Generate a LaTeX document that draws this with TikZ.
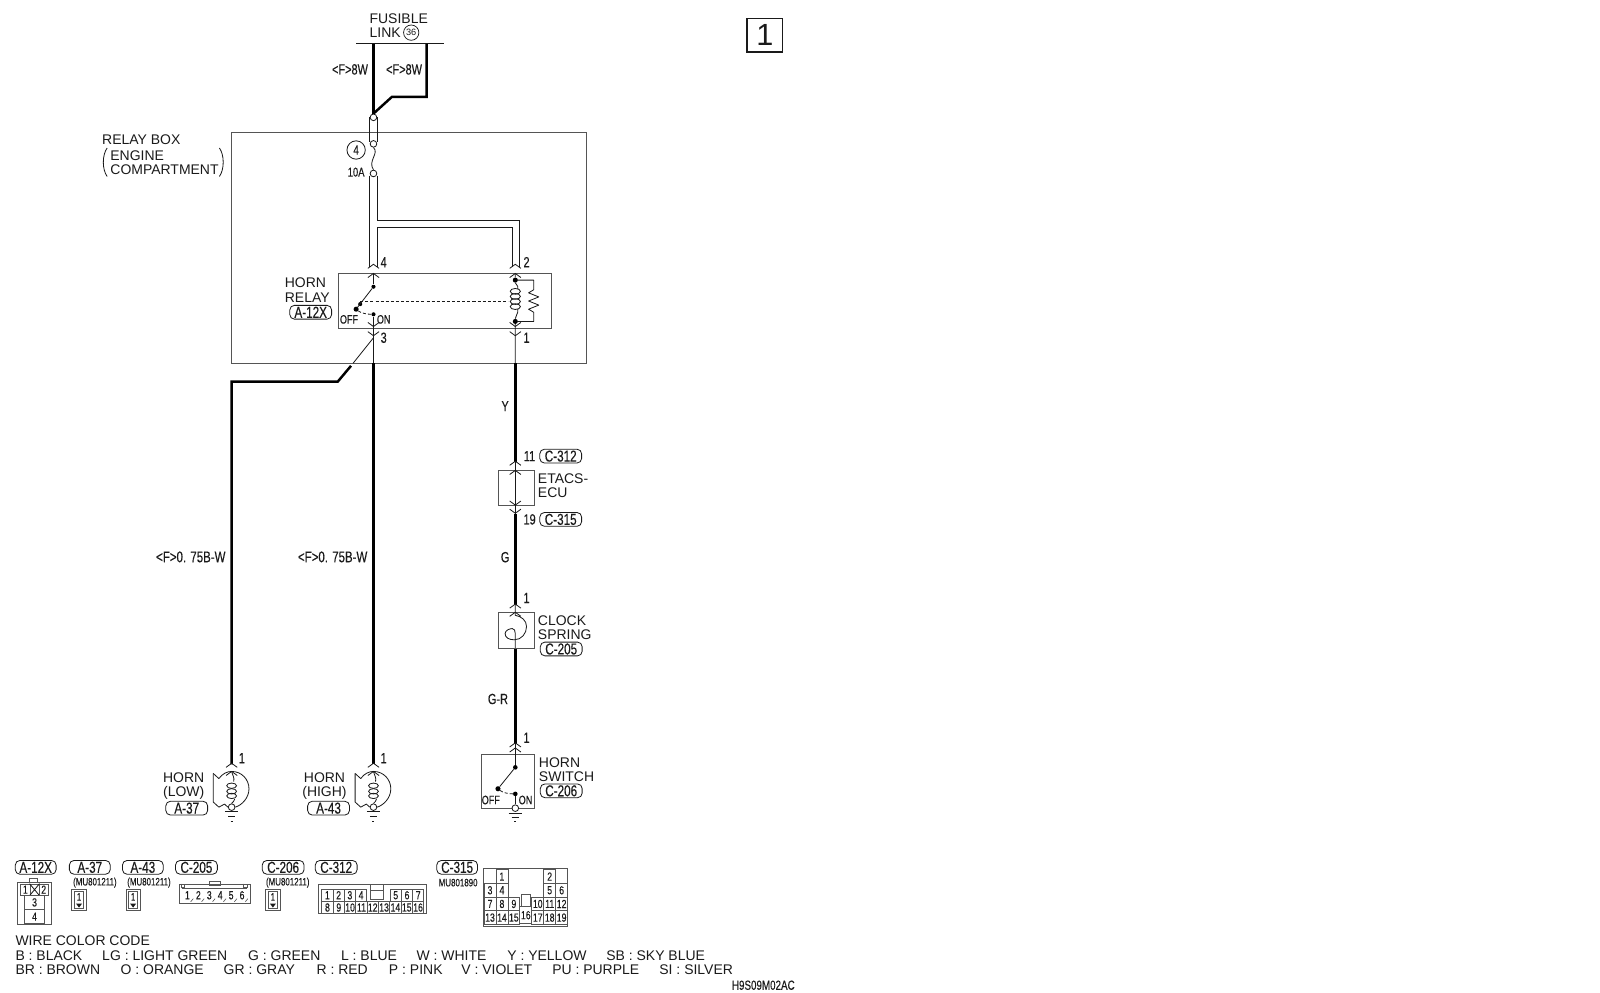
\documentclass[tikz,border=0pt]{standalone}
\usepackage{fontspec}
\setmainfont{Liberation Sans}
\newfontfamily\condf[FakeStretch=0.74,FakeBold=0.25]{Liberation Sans}
\usetikzlibrary{calc}
\definecolor{ink}{HTML}{1A1A1A}
\definecolor{boxc}{HTML}{555555}
\tikzset{
 x=1pt,y=-1pt,
 lbl/.style={inner sep=0pt,text=ink,text height=10pt,text depth=0pt,font=\fontsize{13.7}{14}\selectfont},
 lleft/.style={lbl,anchor=west},
 cnd/.style={inner sep=0pt,text=ink,text height=10pt,text depth=0pt,font=\condf\fontsize{14.5}{14.5}\selectfont},
 tiny/.style={inner sep=0pt,text=ink,font=\condf\fontsize{10.5}{10.5}\selectfont},
 tagbox/.style={draw=ink,line width=.8pt,rounded corners=4.5pt,inner sep=0pt,minimum height=13.5pt,text=ink,font=\condf\fontsize{15.5}{15.5}\selectfont},
 thick wire/.style={line width=2.4pt,draw=black},
 thin wire/.style={line width=.8pt,draw=ink},
 frame/.style={line width=.8pt,draw=boxc},
 oc/.style={circle,draw=ink,fill=white,line width=.8pt,minimum size=6.5pt,inner sep=0pt},
 dotn/.style={circle,fill=black,minimum size=5pt,inner sep=0pt},
 cell/.style={draw=boxc,line width=.7pt,inner sep=0pt,text=ink,font=\condf\fontsize{11.5}{11.5}\selectfont,anchor=north west},
 swtxt/.style={inner sep=0pt,text=ink,font=\condf\fontsize{12}{12}\selectfont},
}
\newcommand{\chevu}[2]{\draw[thin wire] (#1-5.5,#2+4)--(#1,#2)--(#1+5.5,#2+4);}
\newcommand{\chevd}[2]{\draw[thin wire] (#1-5.5,#2-4)--(#1,#2)--(#1+5.5,#2-4);}
\newcommand{\tagn}[5]{\node[tagbox,minimum width=#4pt] (#1) at (#2,#3) {#5};}
\newcommand{\cellat}[7]{\node[cell,minimum width=#4pt,minimum height=#5pt] (#1) at (#2,#3) {#7};}
\newcommand{\hornsym}[2]{%
 \coordinate (#2top) at (#1,756);
 \node[oc] (#2g) at (#1,791) {};
 \draw[thin wire,line join=round] (#1-18,758)--(#1-12.5,763) .. controls (#1-9,758) and (#1-4,756) .. (#1,756)
   .. controls (#1+10,756) and (#1+17,764) .. (#1+17,773)
   .. controls (#1+17,782) and (#1+10,789) .. (#2g.east);
 \draw[thin wire,line join=round] (#1-18,758)--(#1-18,786)--(#1-12.5,791)--(#1-7,788)--(#2g.west);
 \draw[thin wire] (#2top) .. controls (#1+1,760) and (#1+3,762) .. (#1+2,766);
 \foreach \yy in {770,775.5,780}{\draw[thin wire] (#1,\yy) ellipse[x radius=4.8,y radius=2.6];}
 \draw[thin wire] (#1+3,783) .. controls (#1+3,785) and (#1+1,786) .. (#2g.north);
 \draw[thin wire] (#1-6.5,795)--(#1+6.5,795);
 \draw[thin wire] (#1-3.5,800)--(#1+3.5,800);
 \draw[thin wire] (#1-1,804.5)--(#1+1,804.5);
}
\newcommand{\smallconn}[2]{%
 \node[draw=boxc,line width=.9pt,minimum width=14pt,minimum height=21pt,inner sep=0pt,anchor=north west] (#2) at (#1,871) {};
 \node[draw=boxc,line width=.6pt,minimum width=9pt,minimum height=16pt,inner sep=0pt] (#2i) at (#2) {};
 \node[inner sep=0pt,text=ink,font=\condf\fontsize{10.5}{10.5}\selectfont] (#2t) at ($(#2)+(0,-3)$) {1};
 \fill[ink] ($(#2)+(-3,3.5)$)--($(#2)+(3,3.5)$)--($(#2)+(0,7.5)$)--cycle;
}
\begin{document}
\begin{tikzpicture}
\useasboundingbox (0,0) rectangle (1568,973);
% page number
\node[draw=ink,line width=1.1pt,minimum width=35pt,minimum height=33pt,inner sep=0pt,text=ink,font=\fontsize{30}{30}\selectfont] (pg) at (749.5,34.5) {1};
% fusible link
\node[lleft] (fus) at (362,18) {FUSIBLE};
\node[lleft] (lnk) at (362,32) {LINK};
\node[circle,draw=ink,line width=.7pt,minimum size=15pt,inner sep=0pt,text=ink,font=\fontsize{9}{9}\selectfont] (f36) at (403,32) {36};
\coordinate (barL) at (349,43); \coordinate (barR) at (435,43);
\draw[line width=1.1pt,draw=ink] (barL)--(barR);
\coordinate (wL) at (366,43); \coordinate (wR) at (418,43);
\node[oc] (j1) at (366,115) {};
\draw[thick wire,line join=miter] (wL)--(j1.north);
\draw[thick wire,line join=miter] (wR)--(418,95)--(384,95)--(j1.north);
\node[cnd] (f8a) at (343,68) {<F>8W};
\node[cnd] (f8b) at (396,68) {<F>8W};
% relay box
\node[frame,draw,minimum width=348pt,minimum height=226pt,inner sep=0pt,anchor=north west] (rb) at (226.5,129.5) {};
\node[lleft] (rb1) at (100,137) {RELAY BOX};
\node[lleft] (rb2) at (108,152) {ENGINE};
\node[lleft] (rb3) at (108,166) {COMPARTMENT};
\draw[thin wire] (105,145) .. controls (100,152) and (100,166) .. (105,173);
\draw[thin wire] (215,145) .. controls (220,152) and (220,166) .. (215,173);
% fuse
\node[oc] (j2) at (366,141) {};
\node[oc] (j3) at (366,170) {};
\draw[thin wire] (362.5,115)--(362.5,139);
\draw[thin wire] (369.5,115)--(369.5,139);
\draw[thin wire] (j2.south) .. controls (372,150) and (360,158) .. (j3.north);
\node[circle,draw=ink,line width=.8pt,minimum size=18pt,inner sep=0pt,text=ink,font=\condf\fontsize{13}{13}\selectfont] (n4) at (349,147) {4};
\node[cnd,font=\condf\fontsize{12.5}{12.5}\selectfont] (a10) at (349,168) {10A};
% relay
\node[frame,draw,minimum width=209pt,minimum height=53pt,inner sep=0pt,anchor=north west] (rl) at (331,268) {};
\draw[thin wire] (362.5,172)--(362.5,262);
\draw[thin wire] (369.5,172)--(369.5,216)--(509,216)--(509,262);
\draw[thin wire] (369.5,262)--(369.5,223)--(502,223)--(502,262);
\node[lleft] (hr1) at (279,277) {HORN};
\node[lleft] (hr2) at (279,291) {RELAY};
\tagn{t12}{304.5}{306}{41}{A-12X}
\node[cnd] (p4) at (376,257) {4};
\node[cnd] (p2) at (516,257) {2};
\node[cnd] (p3) at (376,331) {3};
\node[cnd] (p1) at (516,331) {1};
\chevu{366}{259}\chevu{366}{268}\chevu{505}{259}\chevu{505}{268}
\chevd{366}{320}\chevd{366}{329}\chevd{505}{320}\chevd{505}{329}
\node[dotn,minimum size=4pt] (sa) at (366,281) {};
\node[dotn] (sb) at (349,303) {};
\node[dotn,minimum size=4pt] (son) at (366,308) {};
\node[dotn,minimum size=4pt] (sm) at (353,298) {};
\draw[thin wire] (366,268)--(sa);
\draw[thin wire] (sa)--(sb);
\draw[thin wire] (son)--(366,356);
\draw[thin wire,densely dashed] (sb) .. controls (354,307) and (360,308) .. (son);
\draw[thin wire,densely dashed,line width=.6pt] (353,295)--(498,295);
\node[swtxt] (off1) at (342,313) {OFF};
\node[swtxt] (on1) at (376,313) {ON};
\node[dotn,minimum size=5pt] (c1) at (505,274.5) {};
\node[dotn,minimum size=5pt] (c2) at (505,315) {};
\draw[thin wire] (505,268)--(c1) .. controls (505,279) and (508,279) .. (507.5,283);
\foreach \yy in {285.5,290.5,295.5,300.5}{\draw[thin wire] (505,\yy) ellipse[x radius=5,y radius=2.8];}
\draw[thin wire] (507.5,303) .. controls (508,308) and (505,309) .. (c2)--(505,356);
\draw[thin wire,line join=round] (c1)--(523,274.5)--(523,284)--(518,287)--(528,291)--(518,295)--(528,299)--(518,303)--(523,306)--(523,315)--(c2);
% wires below relay box
\coordinate (dA) at (346,356);
\draw[thin wire] (366,331)--(dA);
\draw[thick wire,line join=miter] (344,358.5)--(331,374)--(227,374)--(227,749);
\draw[thick wire] (366,356)--(366,749);
\draw[thick wire] (505,356)--(505,453);
\draw[thick wire] (505,504)--(505,593);
\draw[thick wire] (505,635)--(505,729);
\node[cnd] (ly) at (495,398) {Y};
\node[cnd] (lg) at (495,546) {G};
\node[cnd] (lgr) at (488,685) {G-R};
\node[cnd,font=\condf\fontsize{15.2}{15.2}\selectfont] (w1) at (187,546) {<F>0. 75B-W};
\node[cnd,font=\condf\fontsize{15.2}{15.2}\selectfont] (w2) at (326,546) {<F>0. 75B-W};
% ETACS
\node[frame,draw,minimum width=35pt,minimum height=34pt,inner sep=0pt,anchor=north west] (et) at (488,461) {};
\draw[thin wire] (505,453)--(505,504);
\chevu{505}{452}\chevu{505}{461}\chevd{505}{495}\chevd{505}{503}
\node[cnd] (n11) at (519,447) {11};
\tagn{t312}{549.5}{447}{41}{C-312}
\node[lleft] (e1) at (527,469) {ETACS-};
\node[lleft] (e2) at (527,483) {ECU};
\node[cnd] (n19) at (519,509) {19};
\tagn{t315}{549.5}{509}{41}{C-315}
% clock spring
\node[frame,draw,minimum width=35pt,minimum height=35pt,inner sep=0pt,anchor=north west] (cs) at (488,600) {};
\chevu{505}{592}\chevu{505}{600}
\draw[thin wire] (505,593)--(505,603) .. controls (511,604) and (516,608) .. (516,614)
  .. controls (516,621) and (511,627) .. (504,627)
  .. controls (499,627) and (495,625) .. (495,621)
  .. controls (495,618) and (499,616) .. (502,616)
  .. controls (504,616) and (505,618) .. (505,621)--(505,635);
\node[cnd] (n1c) at (516,586) {1};
\node[lleft] (cl1) at (527,608) {CLOCK};
\node[lleft] (cl2) at (527,622) {SPRING};
\tagn{t205}{550}{636}{41}{C-205}
% horn switch
\node[frame,draw,minimum width=52pt,minimum height=53pt,inner sep=0pt,anchor=north west] (hs) at (471,739) {};
\chevu{505}{728}\chevu{505}{733}
\node[cnd] (n1s) at (516,723) {1};
\node[dotn,minimum size=4.5pt] (ha) at (505,752) {};
\node[dotn] (hb) at (488,773) {};
\node[dotn,minimum size=4.5pt] (hon) at (505,778) {};
\node[oc] (hg) at (505,792) {};
\draw[thin wire] (505,729)--(ha);
\draw[thin wire] (ha)--(hb);
\draw[thin wire] (hon)--(hg.north);
\draw[thin wire,densely dashed] (hb) .. controls (493,777) and (499,778) .. (hon);
\node[swtxt] (off2) at (481,784) {OFF};
\node[swtxt] (on2) at (515,784) {ON};
\draw[thin wire] (498.5,797)--(511.5,797);
\draw[thin wire] (501.5,801)--(508.5,801);
\draw[thin wire] (504,805)--(506,805);
\node[lleft] (hs1) at (528,747) {HORN};
\node[lleft] (hs2) at (528,761) {SWITCH};
\tagn{t206}{550}{775}{41}{C-206}
% horns
\hornsym{227}{hl}
\hornsym{366}{hh}
\chevu{227}{748}\chevu{366}{748}\chevu{227}{756}\chevu{366}{756}
\node[cnd] (n1l) at (237,743) {1};
\node[cnd] (n1h) at (376,743) {1};
\node[lbl] (hl1) at (180,762) {HORN};
\node[lbl] (hl2) at (180,776) {(LOW)};
\tagn{t37}{183}{792}{41}{A-37}
\node[lbl] (hh1) at (318,762) {HORN};
\node[lbl] (hh2) at (318,776) {(HIGH)};
\tagn{t43}{322}{792}{41}{A-43}
% connector legend
\tagn{k1}{35}{850}{40}{A-12X}
\tagn{k2}{88}{850}{40}{A-37}
\tagn{k3}{140}{850}{40}{A-43}
\tagn{k4}{192.5}{850}{41}{C-205}
\tagn{k5}{277.5}{850}{41}{C-206}
\tagn{k6}{329.5}{850}{41}{C-312}
\tagn{k7}{448}{850}{40}{C-315}
\node[tiny] (m1) at (93,865) {(MU801211)};
\node[tiny] (m2) at (146,865) {(MU801211)};
\node[tiny] (m3) at (282,865) {(MU801211)};
\node[tiny] (m4) at (449,865) {MU801890};
% A-12X
\node[frame,draw,minimum width=33pt,minimum height=42pt,inner sep=0pt,anchor=north west] (ca) at (17,864) {};
\draw[frame] (29,864)--(29,861)--(37,861)--(37,864);
\cellat{ca1}{20}{866}{9}{11}{}{1}
\cellat{ca2}{29}{866}{9}{11}{}{}
\cellat{ca3}{38}{866}{9}{11}{}{2}
\draw[thin wire] (ca2.north west)--(ca2.south east) (ca2.north east)--(ca2.south west);
\cellat{cb}{24}{877}{19}{14}{}{3}
\cellat{cc}{24}{891}{19}{14}{}{4}
% small connectors
\smallconn{70}{sc1}
\smallconn{123}{sc2}
\smallconn{260}{sc3}
% C-205
\node[frame,draw,minimum width=70pt,minimum height=19pt,inner sep=0pt,anchor=north west] (d0) at (175,866) {};
\draw[frame] (178,871)--(242,871);
\draw[frame] (178,866)--(178,870)--(181,870)--(181,866);
\draw[frame] (239,866)--(239,870)--(242,870)--(242,866);
\foreach \k [evaluate=\k as \xx using {178+(\k-1)*10.7}] in {1,...,6}{
 \node[cell,draw=none,minimum width=10.7pt,minimum height=12pt] (d\k) at (\xx,871) {\k};
 \draw[frame,line width=.6pt] ($(d\k.south east)+(-2.5,0)$)--($(d\k.south east)+(0,-3)$);
}
\draw[frame] (205,866)--(205,863.5)--(216,863.5)--(216,866);
\draw[frame] (205,866)--(205,868)--(216,868)--(216,866);
% C-312
\node[frame,draw,minimum width=105pt,minimum height=29pt,inner sep=0pt,anchor=north west] (e0) at (312,866) {};
\foreach \k [evaluate=\k as \xx using {315+(\k-1)*11}] in {1,...,4}{
 \node[cell,minimum width=11pt,minimum height=12pt] (ea\k) at (\xx,871) {\k};
}
\foreach \k/\xx in {5/382,6/393,7/404}{
 \node[cell,minimum width=11pt,minimum height=12pt] (ea\k) at (\xx,871) {\k};
}
\foreach \k [evaluate=\k as \xx using {315+(\k-8)*11.1}] in {8,...,16}{
 \node[cell,minimum width=11.1pt,minimum height=12pt] (eb\k) at (\xx,883) {\k};
}
\node[cell,minimum width=12pt,minimum height=9pt] (ek) at (363,872) {};
\node[cell,minimum width=12pt,minimum height=6pt] (ek2) at (363,866) {};
% C-315
\node[frame,draw,minimum width=83pt,minimum height=56pt,inner sep=0pt,anchor=north west] (g0) at (473,851) {};
\foreach \k/\cc/\rr in {1/1/0,2/5/0,3/0/1,4/1/1,5/5/1,6/6/1,7/0/2,8/1/2,9/2/2,10/4/2,11/5/2,12/6/2,13/0/3,14/1/3,15/2/3,17/4/3,18/5/3,19/6/3}{
 \pgfmathsetmacro{\xx}{474+\cc*11.7}
 \pgfmathsetmacro{\yy}{852+\rr*13.4}
 \node[cell,minimum width=11.7pt,minimum height=13.4pt] (g\k) at (\xx,\yy) {\k};
}
\node[cell,minimum width=11.7pt,minimum height=17pt] (g16) at (509.1,888) {16};
\node[cell,minimum width=8pt,minimum height=12pt] (gk) at (511,876) {};
% colour code
\node[lleft] (wc) at (15,922) {WIRE COLOR CODE};
\foreach \nm/\xx/\tx in {a/15/B : BLACK,b/100/LG : LIGHT GREEN,c/243/G : GREEN,d/334/L : BLUE,e/408/W : WHITE,f/497/Y : YELLOW,h/594/SB : SKY BLUE}{
 \node[lleft] (r2\nm) at (\xx,936) {\tx};
}
\foreach \nm/\xx/\tx in {a/15/BR : BROWN,b/118/O : ORANGE,c/219/GR : GRAY,d/310/R : RED,e/381/P : PINK,f/452/V : VIOLET,g/541/PU : PURPLE,h/646/SI : SILVER}{
 \node[lleft] (r3\nm) at (\xx,950) {\tx};
}
\node[cnd,font=\condf\fontsize{13}{13}\selectfont,anchor=east] (code) at (779,965) {H9S09M02AC};
\end{tikzpicture}
\end{document}
